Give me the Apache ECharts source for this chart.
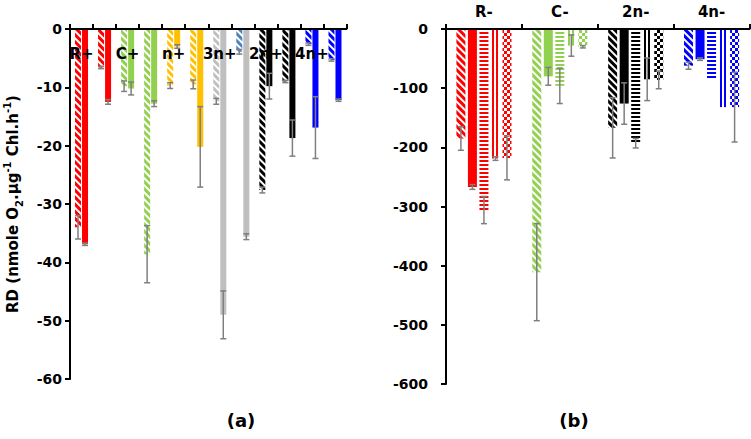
<!DOCTYPE html>
<html><head><meta charset="utf-8">
<script src="https://cdn.jsdelivr.net/npm/echarts@6/dist/echarts.min.js"></script>
<style>html,body{margin:0;padding:0;background:#fff}#c{width:751px;height:439px}</style>
</head><body><div id="c"></div>
<script>
// ---------- Panel (a) ----------
const catsA = ['R+','R+ ii','C+','C+ ii','n+','n+ ii','3n+','3n+ ii','2n+','2n+ ii','4n+','4n+ ii'];
const colorsA = ['#ff0000','#ff0000','#92d050','#92d050','#ffc000','#ffc000','#bfbfbf','#bfbfbf','#000000','#000000','#0000ff','#0000ff'];
const hatchColorsA = ['#ff0000','#ff0000','#92d050','#92d050','#ffc000','#ffc000','#bfbfbf','#4f81bd','#000000','#000000','#0000ff','#0000ff'];
const hatchA    = [-34.0, -6.6, -9.8, -38.6, -9.7, -9.5, -12.4, -3.9, -27.6, -9.0, -2.6, -5.3];
const hatchErrA = [2.0, 0.2, 0.9, 4.9, 0.5, 0.75, 0.5, 0.4, 0.5, 0.2, 0.2, 0.2];
const solidA    = [-36.9, -12.5, -10.2, -12.8, -3.0, -20.2, -49.0, -35.6, -9.8, -18.7, -16.9, -12.2];
const solidErrA = [0.2, 0.4, 1.1, 0.5, 0.3, 6.9, 4.1, 0.5, 2.2, 3.1, 5.3, 0.2];

// ---------- Panel (b) ----------
const catsB = ['R-','C-','2n-','4n-'];
const colorsB = ['#ff0000','#92d050','#000000','#0000ff'];
const hatchB    = [-185, -411, -167, -62];
const hatchErrB = [20, 82, 51, 6];
const solidB    = [-267, -80, -126, -51];
const solidErrB = [4, 15, 35, 2];
const horizB    = [-306, -96, -193, -86];
const horizErrB = [23, 30, 8, 0];
const vertB     = [-219, -28, -85, -132];
const vertErrB  = [3, 18, 36, 0];
const checkB    = [-218, -30, -86, -132];
const checkErrB = [37, 2, 15, 59];

const FONT = 'DejaVu Sans';
const ERR_COLOR = '#7f7f7f';

const decals = {
  hatch: c => ({symbol:'rect', symbolSize:1, dashArrayX:[1,0], dashArrayY:[3,2], rotation:Math.PI/4, color:c}),
  horiz: c => ({symbol:'rect', symbolSize:1, dashArrayX:[1,0], dashArrayY:[2,2], rotation:0, color:c}),
  vert:  c => ({symbol:'rect', symbolSize:1, dashArrayX:[2,2], dashArrayY:[1,0], rotation:0, color:c}),
  check: c => ({symbol:'rect', symbolSize:1, dashArrayX:[[3,3],[0,3,3,0]], dashArrayY:[3,0], rotation:0, color:c})
};

function barSeries(name, vals, cols, kind, gi, bw, gap) {
  return {
    name, type:'bar', xAxisIndex:gi, yAxisIndex:gi, barWidth:bw, barGap:gap,
    data: vals.map((v,i)=>({
      value:v,
      itemStyle: kind === 'solid' ? {color: cols[i]} : {color:'#ffffff', decal: decals[kind](cols[i])}
    })),
    z:2
  };
}

function errSeries(vals, errs, gi, offset) {
  return {
    type:'custom', xAxisIndex:gi, yAxisIndex:gi, z:6, silent:true,
    data: vals.map((v,i)=>[i, v, errs[i]]),
    encode:{x:0, y:1},
    renderItem: function(params, api) {
      const idx = api.value(0), v = api.value(1), e = api.value(2);
      if (!e) return null;
      const hi = api.coord([idx, v + e]);
      const lo = api.coord([idx, v - e]);
      const cx = hi[0] + offset;
      const cap = 3;
      const st = {stroke: ERR_COLOR, lineWidth: 1.5};
      return {type:'group', children:[
        {type:'line', shape:{x1:cx, y1:hi[1], x2:cx, y2:lo[1]}, style:st},
        {type:'line', shape:{x1:cx-cap, y1:hi[1], x2:cx+cap, y2:hi[1]}, style:st},
        {type:'line', shape:{x1:cx-cap, y1:lo[1], x2:cx+cap, y2:lo[1]}, style:st}
      ]};
    }
  };
}

const bwA = 6, gapA = '17%';
const bwB = 9, gapB = '28%';
const stepA = bwA * 1.17, stepB = bwB * 1.28;

const axisLineStyle = {color:'#000', width:2};
const tickLabel = {color:'#000', fontWeight:'bold', fontSize:14, fontFamily:FONT};

const chart = echarts.init(document.getElementById('c'), null, {renderer:'svg'});
chart.setOption({
  animation:false,
  backgroundColor:'#fff',
  grid:[
    {left:70, top:29, width:276.5, height:350},
    {left:446, top:29, width:303.5, height:355}
  ],
  xAxis:[
    {gridIndex:0, type:'category', data:catsA, position:'top', z:10,
     axisLine:{lineStyle:axisLineStyle},
     axisTick:{show:true, interval:0, length:5, lineStyle:axisLineStyle},
     axisLabel:{inside:true, interval:1, margin:17, color:'#000', fontWeight:'bold', fontSize:15, fontFamily:FONT}},
    {gridIndex:1, type:'category', data:catsB, position:'top', z:10,
     axisLine:{lineStyle:axisLineStyle},
     axisTick:{show:true, interval:0, length:5, lineStyle:axisLineStyle},
     axisLabel:{interval:0, margin:10, color:'#000', fontWeight:'bold', fontSize:15, fontFamily:FONT}}
  ],
  yAxis:[
    {gridIndex:0, type:'value', min:-60, max:0, interval:10,
     axisLine:{show:true, lineStyle:axisLineStyle},
     axisTick:{show:true, length:5, lineStyle:axisLineStyle},
     splitLine:{show:false},
     axisLabel:Object.assign({margin:8}, tickLabel),
     name:'{n|RD (nmole O}{sub|2}{n|.µg}{sup|-1}{n| Chl.h}{sup|-1}{n|)}',
     nameLocation:'middle', nameGap:46,
     nameTextStyle:{rich:{
       n:{fontSize:15, fontWeight:'bold', fontFamily:FONT, color:'#000', lineHeight:22},
       sub:{fontSize:10, fontWeight:'bold', fontFamily:FONT, color:'#000', lineHeight:10, verticalAlign:'bottom'},
       sup:{fontSize:10, fontWeight:'bold', fontFamily:FONT, color:'#000', lineHeight:10, verticalAlign:'top'}
     }}},
    {gridIndex:1, type:'value', min:-600, max:0, interval:100,
     axisLine:{show:true, lineStyle:axisLineStyle},
     axisTick:{show:true, length:5, lineStyle:axisLineStyle},
     splitLine:{show:false},
     axisLabel:Object.assign({margin:18}, tickLabel)}
  ],
  graphic:[
    {type:'text', x:241, y:420, style:{text:'(a)', fontSize:18, fontWeight:'bold', fontFamily:FONT, fill:'#000', align:'center', verticalAlign:'middle'}},
    {type:'text', x:574, y:420, style:{text:'(b)', fontSize:18, fontWeight:'bold', fontFamily:FONT, fill:'#000', align:'center', verticalAlign:'middle'}}
  ],
  series:[
    barSeries('hatchA', hatchA, hatchColorsA, 'hatch', 0, bwA, gapA),
    barSeries('solidA', solidA, colorsA, 'solid', 0, bwA, gapA),
    errSeries(hatchA, hatchErrA, 0, -stepA/2),
    errSeries(solidA, solidErrA, 0, stepA/2),
    barSeries('hatchB', hatchB, colorsB, 'hatch', 1, bwB, gapB),
    barSeries('solidB', solidB, colorsB, 'solid', 1, bwB, gapB),
    barSeries('horizB', horizB, colorsB, 'horiz', 1, bwB, gapB),
    barSeries('vertB', vertB, colorsB, 'vert', 1, bwB, gapB),
    barSeries('checkB', checkB, colorsB, 'check', 1, bwB, gapB),
    errSeries(hatchB, hatchErrB, 1, -2*stepB),
    errSeries(solidB, solidErrB, 1, -stepB),
    errSeries(horizB, horizErrB, 1, 0),
    errSeries(vertB, vertErrB, 1, stepB),
    errSeries(checkB, checkErrB, 1, 2*stepB)
  ]
});
</script>
</body></html>
